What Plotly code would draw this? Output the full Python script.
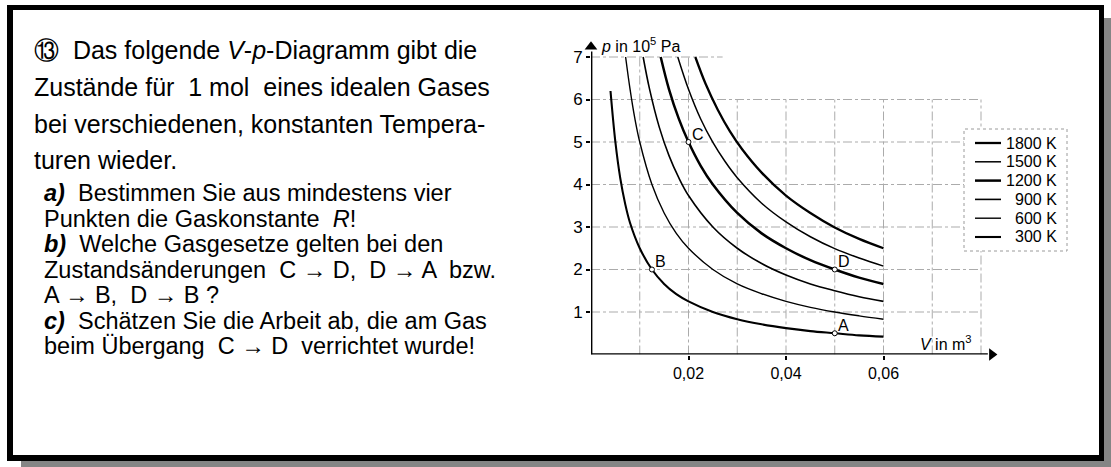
import plotly.graph_objects as go

# ---------------- data ----------------
temp_labels = ["1800 K", "1500 K", "1200 K", "900 K", "600 K", "300 K"]

V_1800 = [0.0214, 0.0235, 0.026, 0.0285, 0.031, 0.035, 0.04, 0.045, 0.05, 0.055, 0.06]
p_1800 = [7.0, 6.37, 5.76, 5.25, 4.83, 4.28, 3.74, 3.33, 2.99, 2.72, 2.50]

V_1500 = [0.0178, 0.02, 0.0225, 0.025, 0.0275, 0.03, 0.035, 0.04, 0.045, 0.05, 0.055, 0.06]
p_1500 = [7.0, 6.24, 5.54, 4.99, 4.54, 4.16, 3.56, 3.12, 2.77, 2.49, 2.27, 2.08]

V_1200 = [0.0143, 0.016, 0.018, 0.02, 0.0225, 0.025, 0.03, 0.035, 0.04, 0.045, 0.05, 0.055, 0.06]
p_1200 = [7.0, 6.24, 5.55, 5.0, 4.44, 4.0, 3.33, 2.85, 2.50, 2.22, 2.0, 1.81, 1.66]

V_900 = [0.0107, 0.012, 0.014, 0.016, 0.018, 0.02, 0.025, 0.03, 0.035, 0.04, 0.045, 0.05, 0.055, 0.06]
p_900 = [7.0, 6.25, 5.35, 4.68, 4.16, 3.74, 3.0, 2.5, 2.14, 1.87, 1.66, 1.5, 1.36, 1.25]

V_600 = [0.0071, 0.008, 0.009, 0.01, 0.0125, 0.015, 0.0175, 0.02, 0.025, 0.03, 0.035, 0.04, 0.045, 0.05, 0.055, 0.06]
p_600 = [7.0, 6.25, 5.55, 5.0, 4.0, 3.33, 2.85, 2.5, 2.0, 1.66, 1.43, 1.25, 1.11, 1.0, 0.91, 0.83]

V_300 = [0.004, 0.005, 0.006, 0.007, 0.008, 0.01, 0.0125, 0.015, 0.0175, 0.02, 0.025, 0.03, 0.035, 0.04, 0.045, 0.05, 0.055, 0.06]
p_300 = [6.2, 5.0, 4.15, 3.55, 3.1, 2.5, 2.0, 1.66, 1.42, 1.25, 1.0, 0.83, 0.71, 0.62, 0.55, 0.5, 0.45, 0.42]

point_names = ["A", "B", "C", "D"]
point_V = [0.05, 0.0125, 0.02, 0.05]
point_p = [0.5, 2.0, 5.0, 2.0]

x_tickvals = [0.02, 0.04, 0.06]
x_ticktext = ["0,02", "0,04", "0,06"]
y_tickvals = [1, 2, 3, 4, 5, 6, 7]
y_ticktext = ["1", "2", "3", "4", "5", "6", "7"]

grid_V = [0.01, 0.02, 0.03, 0.04, 0.05, 0.06, 0.07, 0.08]
grid_p = [1, 2, 3, 4, 5, 6, 7]

para1 = [
    "⑬\u00a0 Das folgende <i>V</i>-<i>p</i>-Diagramm gibt die",
    "Zustände für \u00a01 mol \u00a0eines idealen Gases",
    "bei verschiedenen, konstanten Tempera-",
    "turen wieder.",
]
para2 = [
    "<b><i>a)</i></b>\u00a0 Bestimmen Sie aus mindestens vier",
    "Punkten die Gaskonstante \u00a0<i>R</i>!",
    "<b><i>b)</i></b>\u00a0 Welche Gasgesetze gelten bei den",
    "Zustandsänderungen \u00a0C → D, \u00a0D → A \u00a0bzw.",
    "A → B, \u00a0D → B ?",
    "<b><i>c)</i></b>\u00a0 Schätzen Sie die Arbeit ab, die am Gas",
    "beim Übergang \u00a0C → D \u00a0verrichtet wurde!",
]

# ---------------- styles / layout ----------------
W, H = 1111, 467
FONT = "Liberation Sans, Arial, Helvetica, sans-serif"

def X(px):
    return px / W

def Y(py):
    return 1 - py / H

x0_px, x1_px = 591, 998
y0_px, y1_px = 354.5, 42
x_range = [0, (x1_px - x0_px) / 4875.0]
y_range = [0, (y0_px - y1_px) / 42.5]

curves = [
    (V_1800, p_1800, 2.3),
    (V_1500, p_1500, 1.5),
    (V_1200, p_1200, 2.5),
    (V_900, p_900, 1.6),
    (V_600, p_600, 1.4),
    (V_300, p_300, 2.1),
]

fig = go.Figure()
for (V, p, w), name in zip(curves, temp_labels):
    fig.add_trace(go.Scatter(
        x=V, y=p, mode="lines", name=name,
        line=dict(color="black", width=w, shape="spline", smoothing=1.0),
        hoverinfo="skip", showlegend=False,
    ))

fig.add_trace(go.Scatter(
    x=point_V, y=point_p, mode="markers", showlegend=False, hoverinfo="skip",
    marker=dict(size=5, color="white", line=dict(color="black", width=1)),
))

# axis arrow heads
fig.add_trace(go.Scatter(
    x=[0, x_range[1] * 0.985], y=[y_range[1] * 0.985, 0], mode="markers", showlegend=False,
    hoverinfo="skip", cliponaxis=False,
    marker=dict(symbol=["triangle-up", "triangle-right"], size=11, color="black",
                line=dict(width=0)),
))

shapes = []
# frame with shadow
shapes.append(dict(type="rect", xref="paper", yref="paper", x0=X(1104), x1=X(1111), y0=Y(18), y1=Y(467),
                   fillcolor="#858585", line=dict(width=0), layer="below"))
shapes.append(dict(type="rect", xref="paper", yref="paper", x0=X(21), x1=X(1111), y0=Y(461), y1=Y(467),
                   fillcolor="#858585", line=dict(width=0), layer="below"))
shapes.append(dict(type="rect", xref="paper", yref="paper", x0=X(7), x1=X(1104), y0=Y(5), y1=Y(461),
                   fillcolor="black", line=dict(width=0), layer="below"))
shapes.append(dict(type="rect", xref="paper", yref="paper", x0=X(13), x1=X(1099), y0=Y(10), y1=Y(455),
                   fillcolor="white", line=dict(width=0), layer="below"))

# grid
grid_style = dict(color="#ababab", width=1, dash="dashdot")
for gv in grid_V:
    top = grid_p[-1] if gv <= 0.02 else grid_p[-2]
    shapes.append(dict(type="line", xref="x", yref="y", x0=gv, x1=gv, y0=0, y1=top,
                       line=grid_style, layer="below"))
for gp in grid_p:
    right = grid_V[-1] if gp < grid_p[-1] else 0.027
    shapes.append(dict(type="line", xref="x", yref="y", x0=0, x1=right, y0=gp, y1=gp,
                       line=grid_style, layer="below"))

# axis lines
shapes.append(dict(type="line", xref="x", yref="y", x0=0, x1=0, y0=0, y1=y_range[1] * 0.97,
                   line=dict(color="black", width=2.8), layer="above"))
shapes.append(dict(type="line", xref="x", yref="y", x0=0, x1=x_range[1] * 0.975, y0=0, y1=0,
                   line=dict(color="black", width=2.6), layer="above"))

# legend (manual)
leg_left, leg_right, leg_top, leg_bottom = 964, 1067, 129, 251
shapes.append(dict(type="rect", xref="paper", yref="paper", x0=X(leg_left), x1=X(leg_right),
                   y0=Y(leg_bottom), y1=Y(leg_top), fillcolor="white",
                   line=dict(color="#9a9a9a", width=1, dash="dot"), layer="above"))
annotations = []
row0, row_step = 143, 18.8
for i, ((V, p, w), name) in enumerate(zip(curves, temp_labels)):
    yy = row0 + i * row_step
    shapes.append(dict(type="line", xref="paper", yref="paper", x0=X(975), x1=X(1001),
                       y0=Y(yy), y1=Y(yy), line=dict(color="black", width=w), layer="above"))
    annotations.append(dict(xref="paper", yref="paper", x=X(1059), y=Y(yy), text=name,
                            showarrow=False, xanchor="right", yanchor="middle",
                            font=dict(size=16, color="black", family=FONT)))

# axis titles
annotations.append(dict(xref="paper", yref="paper", x=X(599), y=Y(45), text="<i>p</i> in 10<sup>5</sup> Pa",
                        showarrow=False, xanchor="left", yanchor="middle",
                        font=dict(size=16, color="black", family=FONT)))
annotations.append(dict(xref="paper", yref="paper", x=X(974), y=Y(343), text="<i>V</i> in m<sup>3</sup>",
                        showarrow=False, xanchor="right", yanchor="middle",
                        font=dict(size=16, color="black", family=FONT)))

# point labels
for n, v, p in zip(point_names, point_V, point_p):
    annotations.append(dict(x=v, y=p, xref="x", yref="y", text=n, showarrow=False,
                            xanchor="center", yanchor="middle", xshift=9, yshift=8,
                            font=dict(size=16, color="black", family=FONT)))

# text paragraphs
p1_rows = [50, 87, 124, 160]
for t, yy in zip(para1, p1_rows):
    annotations.append(dict(xref="paper", yref="paper", x=X(32), y=Y(yy), text=t, showarrow=False,
                            xanchor="left", yanchor="middle",
                            font=dict(size=25, color="black", family=FONT)))
p2_rows = [193 + 25.5 * i for i in range(len(para2))]
for t, yy in zip(para2, p2_rows):
    annotations.append(dict(xref="paper", yref="paper", x=X(42), y=Y(yy), text=t, showarrow=False,
                            xanchor="left", yanchor="middle",
                            font=dict(size=23.5, color="black", family=FONT)))

fig.update_layout(
    width=W, height=H, margin=dict(l=0, r=0, t=0, b=0),
    paper_bgcolor="white", plot_bgcolor="rgba(0,0,0,0)",
    template="none", font=dict(family=FONT, color="black"),
    showlegend=False,
    xaxis=dict(domain=[X(x0_px), X(x1_px)], range=x_range, showgrid=False, zeroline=False,
               showline=False, tickvals=x_tickvals, ticktext=x_ticktext, ticks="outside",
               ticklen=4, tickwidth=1.5, tickcolor="black", tickfont=dict(size=16, family=FONT)),
    yaxis=dict(domain=[Y(y0_px), Y(y1_px)], range=y_range, showgrid=False, zeroline=False,
               showline=False, tickvals=y_tickvals, ticktext=y_ticktext, ticks="outside",
               ticklen=4, tickwidth=1.5, tickcolor="black", tickfont=dict(size=17, family=FONT)),
    shapes=shapes, annotations=annotations,
)

fig.write_html("out.html", config={"displayModeBar": False},
               post_script="document.body.style.margin='0';document.body.style.overflow='hidden';")
